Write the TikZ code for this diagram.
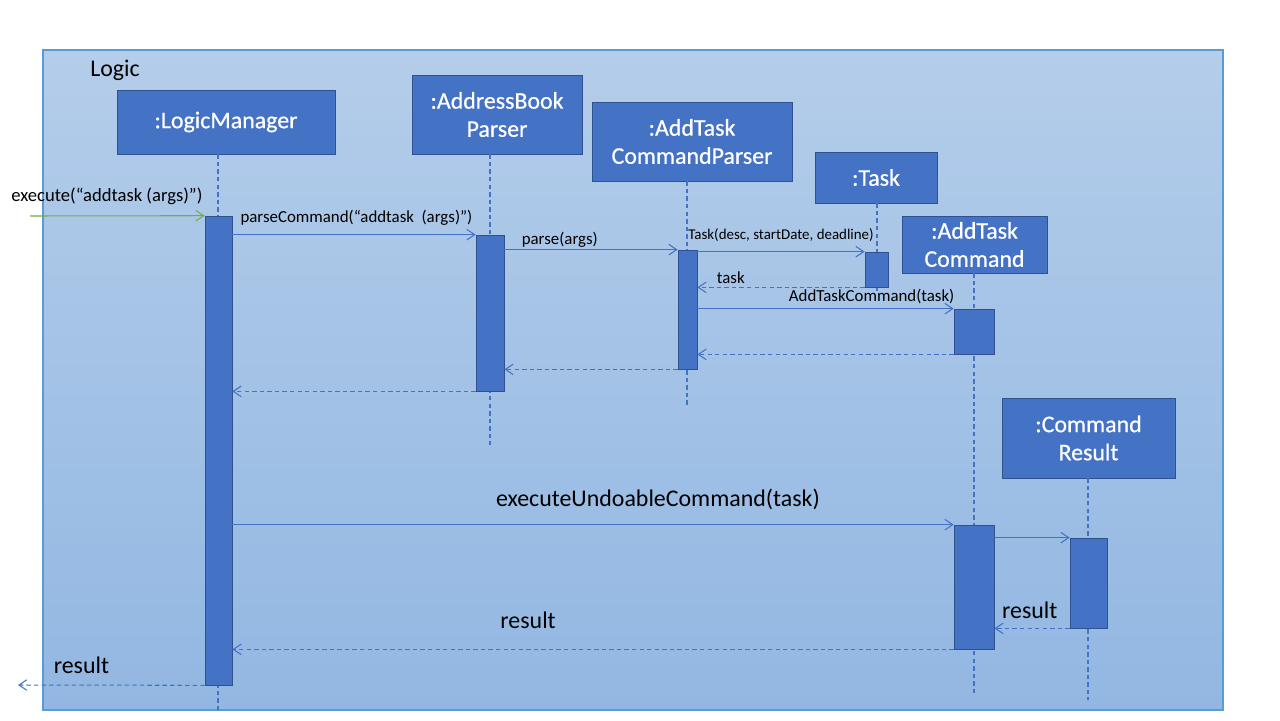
\documentclass[tikz,border=0pt]{standalone}
\usepackage{fontspec}
\setmainfont{Carlito}
\newfontfamily\hdfont[FakeBold=0.6]{Carlito}
\usetikzlibrary{arrows.meta}
\definecolor{boxblue}{HTML}{4472C4}
\definecolor{boxline}{HTML}{2F528F}
\definecolor{frameline}{HTML}{5B9BD5}
\definecolor{bgtop}{HTML}{B4CDEA}
\definecolor{bgbot}{HTML}{92B7E2}
\definecolor{callgreen}{HTML}{70AD47}
\begin{document}
\begin{tikzpicture}[x=0.02cm,y=-0.02cm,>={Straight Barb[length=4.5pt,width=6pt]},
	obj/.style={draw=boxline,fill=boxblue,text=white,align=center,inner sep=0pt,font=\hdfont\fontsize{13.6}{16}\selectfont},
	bar/.style={draw=boxline,fill=boxblue,inner sep=0pt},
	life/.style={draw=boxblue,line width=0.6pt,dash pattern=on 2.5pt off 1.8pt},
	call/.style={->,draw=boxblue,line width=0.6pt},
	ret/.style={call,dash pattern=on 2.5pt off 1.8pt},
	lbl/.style={inner sep=0pt,font=\fontsize{9.6}{11}\selectfont},
	biglbl/.style={inner sep=0pt,font=\fontsize{13.6}{16}\selectfont}]
	\useasboundingbox (0,0) rectangle (1280,720);
	\shade[top color=bgtop,bottom color=bgbot] (43,50) rectangle (1223,710);
	\draw[frameline,line width=0.6pt] (43,50) rectangle (1223,710);
	\node[biglbl] (logic) at (115,70) {Logic};
	% objects
	\node[obj,minimum width=4.36cm,minimum height=1.28cm] (lm) at (226,122) {:LogicManager};
	\node[obj,minimum width=3.4cm,minimum height=1.58cm] (abp) at (497,114.5) {:AddressBook\\Parser};
	\node[obj,minimum width=4cm,minimum height=1.58cm] (atcp) at (692,141.5) {:AddTask\\CommandParser};
	\node[obj,minimum width=2.44cm,minimum height=1.02cm] (task) at (876,177.5) {:Task};
	\node[obj,minimum width=2.9cm,minimum height=1.14cm] (atc) at (974.5,244.5) {:AddTask\\Command};
	\node[obj,minimum width=3.46cm,minimum height=1.6cm] (cr) at (1088.5,438) {:Command\\Result};
	% lifelines
	\coordinate (lmend) at (218,710);
	\coordinate (abpend) at (490,445);
	\coordinate (atcpend) at (687,406);
	\coordinate (taskend) at (877,293);
	\coordinate (atcend) at (974,695);
	\coordinate (crend) at (1088,700);
	\draw[life] (lm.south -| lmend) -- (lmend);
	\draw[life] (abp.south -| abpend) -- (abpend);
	\draw[life] (atcp.south -| atcpend) -- (atcpend);
	\draw[life] (task.south -| taskend) -- (taskend);
	\draw[life] (atc.south -| atcend) -- (atcend);
	\draw[life] (cr.south -| crend) -- (crend);
	% activations
	\node[bar,minimum width=0.54cm,minimum height=9.38cm] (lmbar) at (218.5,450.5) {};
	\node[bar,minimum width=0.56cm,minimum height=3.12cm] (abpbar) at (490,313) {};
	\node[bar,minimum width=0.38cm,minimum height=2.38cm] (atcpbar) at (687.5,309.5) {};
	\node[bar,minimum width=0.46cm,minimum height=0.7cm] (taskbar) at (876.5,269.5) {};
	\node[bar,minimum width=0.8cm,minimum height=0.9cm] (atcbarA) at (974,331.5) {};
	\node[bar,minimum width=0.8cm,minimum height=2.48cm] (atcbarB) at (974,587) {};
	\node[bar,minimum width=0.74cm,minimum height=1.8cm] (crbar) at (1088.5,583) {};
	% messages
	\coordinate (in) at (30,216);
	\coordinate (out) at (18,685);
	\draw[call,draw=callgreen] (in) -- node[lbl,pos=0.44,yshift=0.4cm,font=\fontsize{10.6}{12}\selectfont] {execute(“addtask (args)”)} (lmbar.north west);
	\draw[call] (lmbar.east |- abpbar.north) -- node[lbl,pos=0.51,yshift=0.34cm] {parseCommand(“addtask\ \ (args)”)} (abpbar.north west);
	\draw[call] (abpbar.east |- atcpbar.north) -- node[lbl,pos=0.32,yshift=0.2cm] {parse(args)} (atcpbar.north west);
	\draw[call] (atcpbar.east |- taskbar.north) -- node[lbl,pos=0.5,yshift=0.34cm,font=\fontsize{8.5}{10}\selectfont] {Task(desc, startDate, deadline)} (taskbar.north west);
	\draw[ret] (taskbar.south west) -- node[lbl,pos=0.8,yshift=0.2cm] {task} (atcpbar.east |- taskbar.south);
	\draw[call] (atcpbar.east |- atcbarA.north) -- node[lbl,pos=0.68,yshift=0.24cm] {AddTaskCommand(task)} (atcbarA.north west);
	\draw[ret] (atcbarA.south west) -- (atcpbar.east |- atcbarA.south);
	\draw[ret] (atcpbar.south west) -- (abpbar.east |- atcpbar.south);
	\draw[ret] (abpbar.south west) -- (lmbar.east |- abpbar.south);
	\draw[call] (lmbar.east |- atcbarB.north) -- node[biglbl,pos=0.59,yshift=0.5cm] {executeUndoableCommand(task)} (atcbarB.north west);
	\draw[call] (atcbarB.east |- crbar.north) -- (crbar.north west);
	\draw[ret] (crbar.south west) -- node[biglbl,pos=0.53,yshift=0.36cm] {result} (atcbarB.east |- crbar.south);
	\draw[ret] (atcbarB.south west) -- node[biglbl,pos=0.59,yshift=0.58cm] {result} (lmbar.east |- atcbarB.south);
	\draw[ret] (lmbar.south west) -- node[biglbl,pos=0.66,yshift=0.4cm] {result} (out);
\end{tikzpicture}
\end{document}
